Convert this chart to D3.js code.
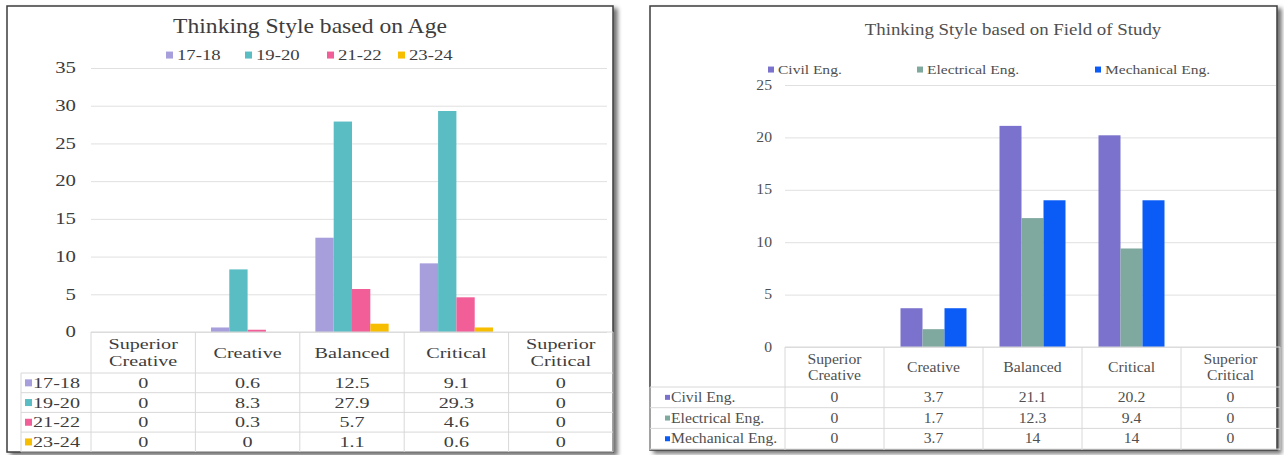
<!DOCTYPE html>
<html>
<head>
<meta charset="utf-8">
<script src="https://cdn.jsdelivr.net/npm/d3@7"></script>
<style>
  html, body { margin: 0; padding: 0; background: #fff; }
  svg text { font-family: "Times New Roman", "Liberation Serif", Tinos, "DejaVu Serif", serif; }
</style>
</head>
<body>
<svg id="chart" width="1284" height="455"></svg>
<script>
// Thinking-style categories shared by both charts
const styles = [["Superior", "Creative"], ["Creative"], ["Balanced"], ["Critical"], ["Superior", "Critical"]];

// Chart 1: by age group
const ageGroups = ["17-18", "19-20", "21-22", "23-24"];
const ageColors = ["#a69fdb", "#5bbdc4", "#f25f98", "#f7bd00"];
const age1718 = [0, 0.6, 12.5, 9.1, 0];
const age1920 = [0, 8.3, 27.9, 29.3, 0];
const age2122 = [0, 0.3, 5.7, 4.6, 0];
const age2324 = [0, 0, 1.1, 0.6, 0];
const ageTicks = [0, 5, 10, 15, 20, 25, 30, 35];

// Chart 2: by field of study
const fields = ["Civil Eng.", "Electrical Eng.", "Mechanical Eng."];
const fieldColors = ["#7a72cc", "#7fa89f", "#0b5cf6"];
const civil = [0, 3.7, 21.1, 20.2, 0];
const electrical = [0, 1.7, 12.3, 9.4, 0];
const mechanical = [0, 3.7, 14, 14, 0];
const fieldTicks = [0, 5, 10, 15, 20, 25];

const svg = d3.select("#chart");
const defs = svg.append("defs");
const shadow = defs.append("filter").attr("id", "shadow")
  .attr("x", "-5%").attr("y", "-5%").attr("width", "110%").attr("height", "110%");
shadow.append("feDropShadow").attr("dx", 4).attr("dy", 3).attr("stdDeviation", 2)
  .attr("flood-color", "#000").attr("flood-opacity", 0.55);

// text drawn with a slight horizontal stretch (wide typesetting)
function label(parent, x, y, str, size, sx, anchor) {
  return parent.append("text")
    .attr("transform", `translate(${x},${y}) scale(${sx},1)`)
    .attr("text-anchor", anchor || "start")
    .attr("font-size", size)
    .text(str);
}

function drawChart(cfg) {
  const g = svg.append("g").attr("fill", cfg.textColor);
  // panel frame
  g.append("rect")
    .attr("x", cfg.frame[0]).attr("y", cfg.frame[1])
    .attr("width", cfg.frame[2] - cfg.frame[0]).attr("height", cfg.frame[3] - cfg.frame[1])
    .attr("fill", "#fff").attr("stroke", "#3c3c3c").attr("stroke-width", 1.5)
    .attr("filter", "url(#shadow)");

  const x = d3.scaleBand().domain(d3.range(styles.length))
    .range([cfg.plot.left, cfg.plot.right]);
  const x1 = d3.scaleBand().domain(d3.range(cfg.series.length))
    .range([0, x.bandwidth()]).paddingOuter(cfg.outerPad).paddingInner(0);
  const y = d3.scaleLinear().domain([0, d3.max(cfg.ticks)])
    .range([cfg.plot.bottom, cfg.plot.top]);

  // gridlines
  const axis = d3.axisLeft(y).tickValues(cfg.ticks)
    .tickSize(-(cfg.gridRight - cfg.plot.left)).tickFormat("");
  const ag = g.append("g").attr("transform", `translate(${cfg.plot.left},0)`).call(axis);
  ag.select(".domain").remove();
  ag.selectAll(".tick line").attr("stroke", "#e0e0e0").attr("stroke-width", 1);
  ag.selectAll(".tick text").remove();
  // y labels
  cfg.ticks.forEach(v => {
    label(g, cfg.plot.left - cfg.labelPad, y(v) + cfg.tickFont * 0.33, d3.format("d")(v),
      cfg.tickFont, cfg.sx, "end");
  });

  // bars
  cfg.series.forEach((vals, si) => {
    g.append("g").selectAll("rect").data(vals).join("rect")
      .attr("x", (d, i) => x(i) + x1(si))
      .attr("width", x1.bandwidth())
      .attr("y", d => y(d))
      .attr("height", d => y(0) - y(d))
      .attr("fill", cfg.colors[si]);
  });

  // title
  label(g, cfg.titlePos[0], cfg.titlePos[1], cfg.title, cfg.titleFont, cfg.titleSx, "middle");

  // legend
  cfg.names.forEach((n, i) => {
    const lx = cfg.legendX[i];
    g.append("rect").attr("x", lx).attr("y", cfg.legendY - cfg.legendFont * 0.33 - cfg.legendBox / 2)
      .attr("width", cfg.legendBox).attr("height", cfg.legendBox).attr("fill", cfg.colors[i]);
    label(g, lx + cfg.legendBox + cfg.legendGap, cfg.legendY, n, cfg.legendFont, cfg.legendSx);
  });

  // data table
  const t = cfg.table;
  const lines = g.append("g").attr("stroke", "#d8d8d8").attr("stroke-width", 1);
  for (let i = 0; i <= styles.length; i++) {
    const xx = i < styles.length ? x(i) : cfg.plot.right;
    lines.append("line").attr("x1", xx).attr("x2", xx)
      .attr("y1", cfg.plot.bottom).attr("y2", t.bottom);
  }
  lines.append("line").attr("x1", t.left).attr("x2", t.left)
    .attr("y1", t.headerBottom).attr("y2", t.bottom);
  lines.append("line").attr("x1", cfg.plot.left).attr("x2", cfg.plot.right)
    .attr("y1", cfg.plot.bottom).attr("y2", cfg.plot.bottom);
  for (let r = 0; r <= cfg.series.length; r++) {
    const yy = t.headerBottom + r * t.rowH;
    lines.append("line").attr("x1", t.left).attr("x2", cfg.plot.right)
      .attr("y1", yy).attr("y2", yy);
  }
  // header text
  const mid = (cfg.plot.bottom + t.headerBottom) / 2;
  styles.forEach((s, i) => {
    const cx = x(i) + x.bandwidth() / 2;
    s.forEach((word, k) => {
      label(g, cx, mid + t.font * 0.33 + (k - (s.length - 1) / 2) * t.lineH, word, t.font, cfg.sx, "middle");
    });
  });
  // rows
  cfg.series.forEach((vals, si) => {
    const cyMid = t.headerBottom + si * t.rowH + t.rowH / 2;
    const cy = cyMid + t.font * 0.33;
    g.append("rect").attr("x", t.markX).attr("y", cyMid - t.mark / 2)
      .attr("width", t.mark).attr("height", t.mark).attr("fill", cfg.colors[si]);
    label(g, t.markX + t.mark + 1, cy, cfg.names[si], t.font, cfg.sx);
    vals.forEach((v, i) => {
      label(g, x(i) + x.bandwidth() / 2, cy, v, t.font, cfg.sx, "middle");
    });
  });
}

drawChart({
  frame: [7, 6, 613, 452],
  plot: { left: 91, right: 613, top: 68, bottom: 332 },
  gridRight: 607,
  outerPad: 0.85,
  ticks: ageTicks,
  labelPad: 15,
  tickFont: 16,
  sx: 1.3,
  textColor: "#3d3d3d",
  series: [age1718, age1920, age2122, age2324],
  colors: ageColors,
  names: ageGroups,
  title: "Thinking Style based on Age",
  titlePos: [310, 33],
  titleFont: 20,
  titleSx: 1.18,
  legendX: [166, 245, 327, 398],
  legendY: 60,
  legendBox: 7,
  legendGap: 4,
  legendFont: 15,
  legendSx: 1.25,
  table: { left: 21, headerBottom: 373, rowH: 19.7, bottom: 452, font: 15.5, lineH: 17, mark: 7, markX: 25 }
});

drawChart({
  frame: [650, 6, 1277, 450],
  plot: { left: 785, right: 1280, top: 85, bottom: 347 },
  gridRight: 1276,
  outerPad: 0.75,
  ticks: fieldTicks,
  labelPad: 13,
  tickFont: 14,
  sx: 1.12,
  textColor: "#505050",
  series: [civil, electrical, mechanical],
  colors: fieldColors,
  names: fields,
  title: "Thinking Style based on Field of Study",
  titlePos: [1013, 35],
  titleFont: 16,
  titleSx: 1.18,
  legendX: [768, 917, 1095],
  legendY: 74,
  legendBox: 6,
  legendGap: 4,
  legendFont: 13.5,
  legendSx: 1.15,
  table: { left: 650, headerBottom: 387, rowH: 20.7, bottom: 450, font: 14, lineH: 16, mark: 5, markX: 665 }
});
</script>
</body>
</html>
